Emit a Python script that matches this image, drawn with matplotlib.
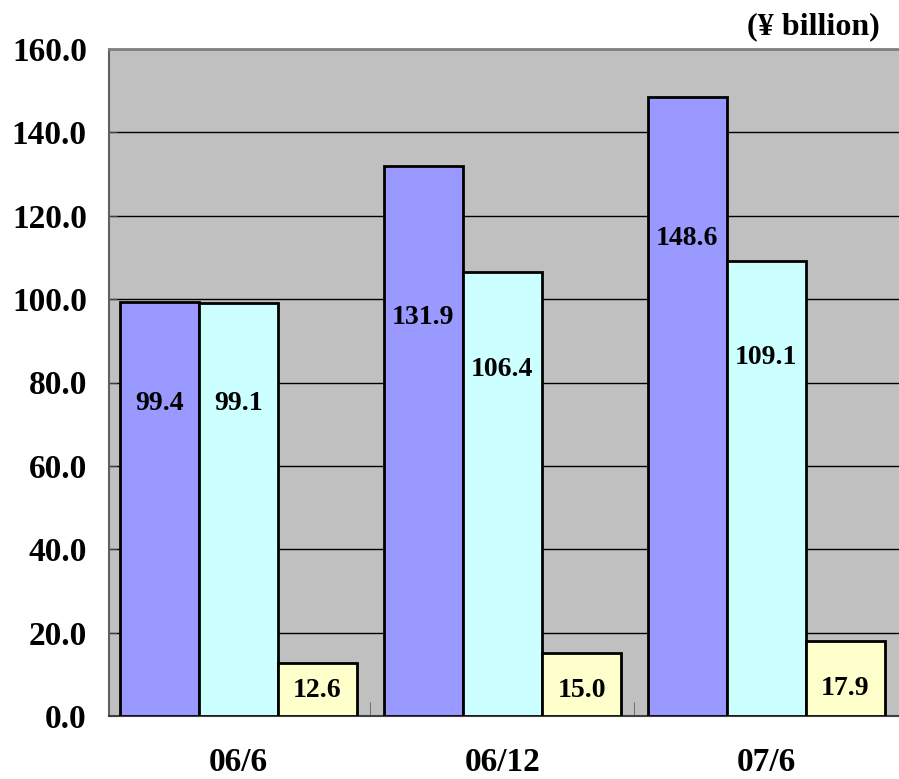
import matplotlib
matplotlib.use("Agg")
import matplotlib.pyplot as plt
import numpy as np

plt.rcParams['font.family'] = ['Liberation Serif', 'DejaVu Serif']
plt.rcParams['font.weight'] = 'bold'

# data (¥ billion)
periods = ["06/6", "06/12", "07/6"]
series_a = [99.4, 131.9, 148.6]
series_b = [99.1, 106.4, 109.1]
series_c = [12.6, 15.0, 17.9]

# where the value labels sit inside each bar
label_y_a = [75.0, 95.5, 114.5]
label_y_b = [75.0, 83.0, 86.0]
label_y_c = [6.0, 6.0, 6.5]

colors = ["#9999FF", "#CCFFFF", "#FFFFCC"]
bar_w = 0.3

fig = plt.figure(figsize=(8.99, 7.79), dpi=100)
ax = fig.add_axes([109 / 899, 63 / 779, 792 / 899, 667 / 779])
ax.set_facecolor("#C0C0C0")

x = np.arange(len(periods))
all_series = [series_a, series_b, series_c]
all_label_y = [label_y_a, label_y_b, label_y_c]
for i, (vals, ly, col) in enumerate(zip(all_series, all_label_y, colors)):
    pos = x + (i - 1) * bar_w
    ax.bar(pos, vals, width=bar_w, color=col, edgecolor="black", linewidth=2, zorder=3)
    for px, v, yy in zip(pos, vals, ly):
        ax.text(px, yy, "{:.1f}".format(v), ha="center", va="center",
                fontsize=20, fontweight="bold", zorder=4)

ax.set_xlim(-0.49, 2.51)
ax.set_ylim(0, 160)
ax.set_yticks(np.arange(0, 161, 20))
ax.set_yticklabels(["{:.1f}".format(t) for t in np.arange(0, 161, 20)],
                   fontsize=24, fontweight="bold")
ax.yaxis.grid(True, color="black", linewidth=1)
ax.set_axisbelow(True)
ax.tick_params(axis="y", direction="in", length=6, pad=16, color="#404040")

ax.set_xticks(x)
ax.set_xticklabels(periods, fontsize=24, fontweight="bold")
ax.tick_params(axis="x", length=0, pad=22)
ax.set_xticks([0.5, 1.5], minor=True)
ax.tick_params(axis="x", which="minor", direction="in", length=10, color="#606060")

ax.spines["top"].set_color("#808080")
ax.spines["top"].set_linewidth(2)
ax.spines["left"].set_color("#606060")
ax.spines["left"].set_linewidth(1.5)
ax.spines["bottom"].set_color("#404040")
ax.spines["bottom"].set_linewidth(1.5)
ax.spines["right"].set_visible(False)

fig.text(880 / 899, 1 - 27 / 779, "(¥ billion)", ha="right", va="center",
         fontsize=23, fontweight="bold")

fig.savefig("out.png", dpi=100)
